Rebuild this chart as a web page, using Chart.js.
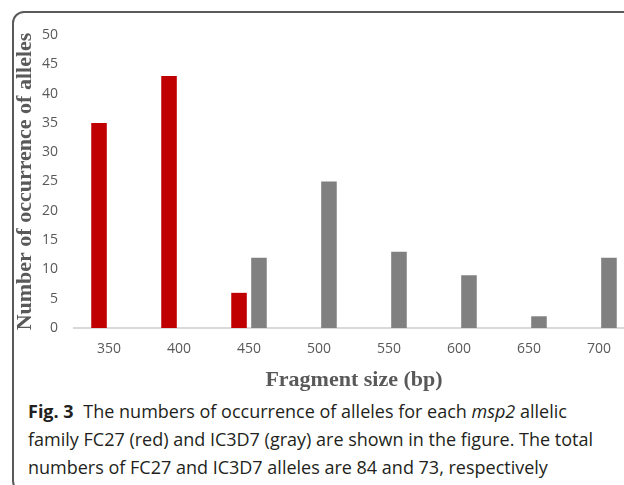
<!DOCTYPE html>
<html>
<head>
<meta charset="utf-8">
<script src="https://cdn.jsdelivr.net/npm/chart.js@4"></script>
<style>
  html, body { margin: 0; padding: 0; width: 624px; height: 485px; overflow: hidden; background: #fff; }
  #frame {
    position: absolute; left: 12px; top: 11px; width: 700px; height: 478px;
    border: 2px solid #5a5a5a; border-radius: 12px;
  }
  #chartBox { position: absolute; left: 0; top: 0; }
  #caption {
    position: absolute; left: 28px; top: 397px; width: 600px;
    font-family: "Open Sans", sans-serif; font-size: 18px; line-height: 28px;
    color: #231f20; white-space: nowrap;
  }
  #caption b { font-weight: 700; margin-right: 5px; }
</style>
</head>
<body>
<div id="frame"></div>
<div id="chartBox"><canvas id="allelesChart" width="640" height="394"></canvas></div>
<div id="caption"><b>Fig. 3</b> The numbers of occurrence of alleles for each <i>msp2</i> allelic<br>family FC27 (red) and IC3D7 (gray) are shown in the figure. The total<br>numbers of FC27 and IC3D7 alleles are 84 and 73, respectively</div>

<script>
const fragmentSizes = ['350', '400', '450', '500', '550', '600', '650', '700'];
const fc27Counts = [35, 43, 6, null, null, null, null, null];
const ic3d7Counts = [null, null, 12, 25, 13, 9, 2, 12];

const labelGray = '#595959';

const ctx = document.getElementById('allelesChart');

new Chart(ctx, {
  type: 'bar',
  data: {
    labels: fragmentSizes,
    datasets: [
      {
        label: 'FC27',
        data: fc27Counts,
        backgroundColor: '#c00000',
        barPercentage: 0.78,
        categoryPercentage: 0.57
      },
      {
        label: 'IC3D7',
        data: ic3d7Counts,
        backgroundColor: '#808080',
        barPercentage: 0.78,
        categoryPercentage: 0.57
      }
    ]
  },
  options: {
    responsive: false,
    animation: false,
    layout: { padding: { left: 12, top: 35, right: 6, bottom: 0 } },
    plugins: {
      legend: { display: false },
      tooltip: { enabled: false }
    },
    scales: {
      x: {
        grid: { display: false, drawTicks: false },
        border: { display: true, color: '#d9d9d9', width: 2 },
        ticks: {
          color: labelGray,
          font: { family: 'Open Sans', size: 14 },
          padding: 13
        },
        title: {
          display: true,
          text: 'Fragment size (bp)',
          color: labelGray,
          font: { family: 'Liberation Serif', size: 22, weight: 'bold' },
          padding: { top: 6, bottom: 0 }
        },
        afterFit: function (scale) { scale.height = 66; }
      },
      y: {
        min: 0,
        max: 50,
        grid: { display: false, drawTicks: false },
        border: { display: false },
        ticks: {
          stepSize: 5,
          color: labelGray,
          font: { family: 'Open Sans', size: 14 },
          padding: 16
        },
        title: {
          display: true,
          text: 'Number of occurrence of alleles',
          color: labelGray,
          font: { family: 'Liberation Serif', size: 22, weight: 'bold' },
          padding: { top: 0, bottom: 0 }
        },
        afterFit: function (scale) { scale.width = 62; }
      }
    }
  }
});
</script>
</body>
</html>
